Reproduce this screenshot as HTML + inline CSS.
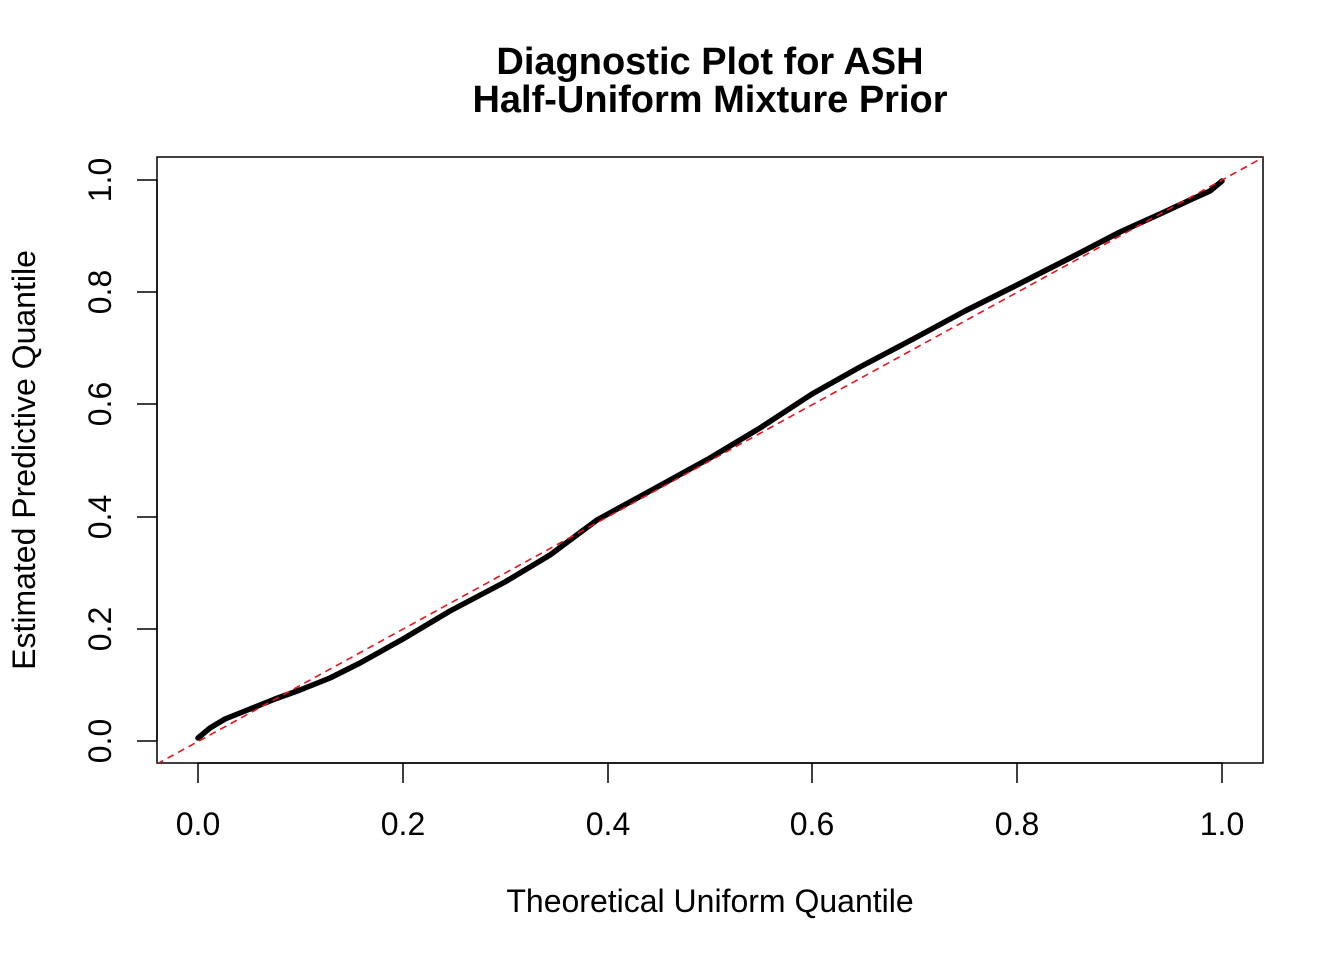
<!DOCTYPE html>
<html><head><meta charset="utf-8"><style>
html,body{margin:0;padding:0;background:#fff;}
svg{display:block;}
text{font-family:"Liberation Sans",Arial,sans-serif;fill:#000;}
</style></head><body>
<svg width="1344" height="960" viewBox="0 0 1344 960" xmlns="http://www.w3.org/2000/svg">
<defs><clipPath id="c"><rect x="157" y="157" width="1106" height="606"/></clipPath></defs>
<text x="710" y="74" font-size="38" font-weight="bold" text-anchor="middle">Diagnostic Plot for ASH</text>
<text x="710" y="112" font-size="38" font-weight="bold" text-anchor="middle">Half-Uniform Mixture Prior</text>
<rect x="157" y="157" width="1106" height="606" fill="none" stroke="#000" stroke-width="1.5"/>
<g stroke="#000" stroke-width="1.5">
<line x1="198" y1="763" x2="1222" y2="763"/>
<line x1="198" y1="763" x2="198" y2="783"/><line x1="403" y1="763" x2="403" y2="783"/>
<line x1="608" y1="763" x2="608" y2="783"/><line x1="812" y1="763" x2="812" y2="783"/>
<line x1="1017" y1="763" x2="1017" y2="783"/><line x1="1222" y1="763" x2="1222" y2="783"/>
<line x1="157" y1="741" x2="157" y2="180"/>
<line x1="157" y1="741" x2="137" y2="741"/><line x1="157" y1="629" x2="137" y2="629"/>
<line x1="157" y1="517" x2="137" y2="517"/><line x1="157" y1="404" x2="137" y2="404"/>
<line x1="157" y1="292" x2="137" y2="292"/><line x1="157" y1="180" x2="137" y2="180"/>
</g>
<g font-size="32" text-anchor="middle">
<text x="198" y="835">0.0</text><text x="403" y="835">0.2</text><text x="608" y="835">0.4</text>
<text x="812" y="835">0.6</text><text x="1017" y="835">0.8</text><text x="1222" y="835">1.0</text>
<text transform="translate(111,741) rotate(-90)">0.0</text>
<text transform="translate(111,629) rotate(-90)">0.2</text>
<text transform="translate(111,517) rotate(-90)">0.4</text>
<text transform="translate(111,404) rotate(-90)">0.6</text>
<text transform="translate(111,292) rotate(-90)">0.8</text>
<text transform="translate(111,180) rotate(-90)">1.0</text>
<text x="710" y="912">Theoretical Uniform Quantile</text>
<text transform="translate(35,460) rotate(-90)">Estimated Predictive Quantile</text>
</g>
<g clip-path="url(#c)">
<polyline fill="none" stroke="#000" stroke-width="5.5" stroke-linejoin="round" stroke-linecap="round"
points="198,738 210,728 225,719 250,709 275,699 300,690 330,678 360,663 403,639 450,611 505,582 550,555 597,520 650,491 710,458 760,428 812,394 860,367 915,338 965,311 1017,285 1070,258 1120,232 1160,214 1190,200 1210,191 1222,181"/>
<line x1="157" y1="764" x2="1264" y2="157" stroke="#e8141b" stroke-width="1.6" stroke-dasharray="7,5"/>
</g>
</svg>
</body></html>
